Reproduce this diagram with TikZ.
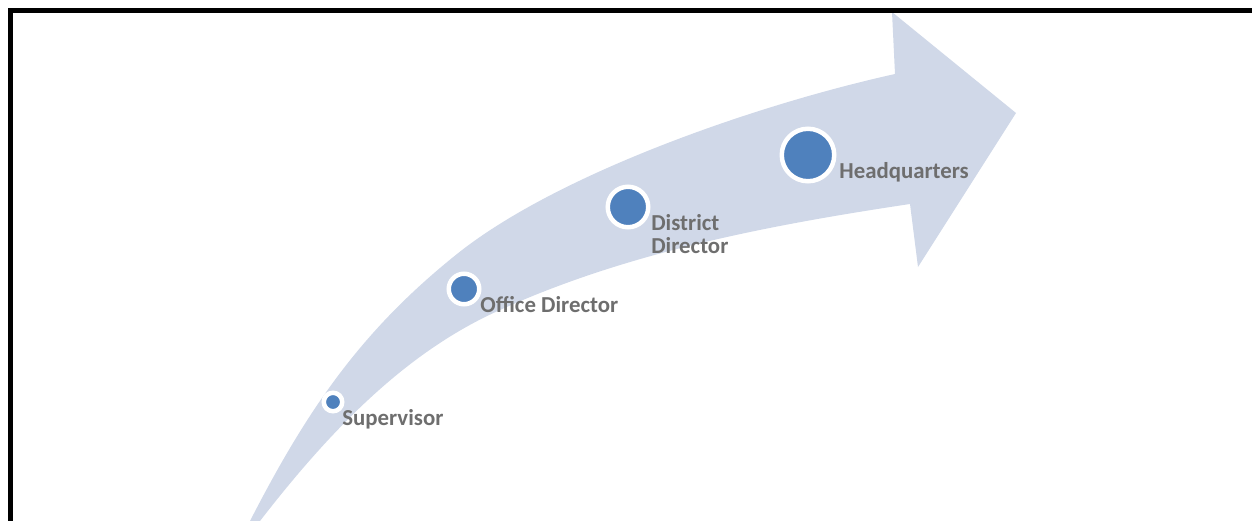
\documentclass[tikz,border=0pt]{standalone}
\usepackage{fontspec}
\setmainfont{Carlito}
\usetikzlibrary{positioning}
\definecolor{bandblue}{HTML}{D0D8E8}
\definecolor{dotblue}{HTML}{4F81BD}
\definecolor{lblgray}{HTML}{6E6E6E}

\begin{document}
\begin{tikzpicture}[x=0.02cm,y=-0.02cm,
    dot/.style={circle,fill=dotblue,draw=white,line width=0.09cm,inner sep=0pt},
    lbl/.style={text=lblgray,font=\fontsize{13}{13}\selectfont\bfseries,inner sep=0pt,align=left},
    frame/.style={line width=0.1cm}]

                \useasboundingbox (0,0) rectangle (1252,521);
                \clip (0,0) rectangle (1252,521);

                % curved arrow
                \coordinate (tail) at (240,552);
                \coordinate (up0) at (250,521);
                \coordinate (up1) at (457,254);
                \coordinate (up2) at (895,74);
                \coordinate (lo0) at (910,204);
                \coordinate (lo1) at (500,310);
                \coordinate (lo2) at (260,521);

                \fill[bandblue] (tail) -- (up0)
                    .. controls (308,408) and (362,330) .. (up1)
                    .. controls (557,174) and (755,105) .. (up2)
                    -- (892,12) -- (1016,113) -- (918,267) -- (lo0)
                    .. controls (770,225) and (628,252) .. (lo1)
                    .. controls (410,350) and (335,424) .. (lo2)
                    -- cycle;

                \foreach \nm/\x/\y/\sz in {sup/333/402/0.37cm, off/464/289/0.61cm, dist/628/207/0.81cm, hq/808/155/1.05cm}
                    {
                    \node[dot,minimum size=\sz] (\nm) at (\x,\y) {};
                    }

                \node[lbl,anchor=base west] (suplbl) at (342,425) {Supervisor};
                \node[lbl,anchor=base west] (offlbl) at (480,312) {Office Director};
                \node[lbl,anchor=west] (distlbl) at (651,234) {District\\Director};
                \node[lbl,anchor=base west] (hqlbl) at (839,178) {Headquarters};

                \draw[frame] (1260,10.5) -- (10.5,10.5) -- (10.5,530);

            \end{tikzpicture}
\end{document}
